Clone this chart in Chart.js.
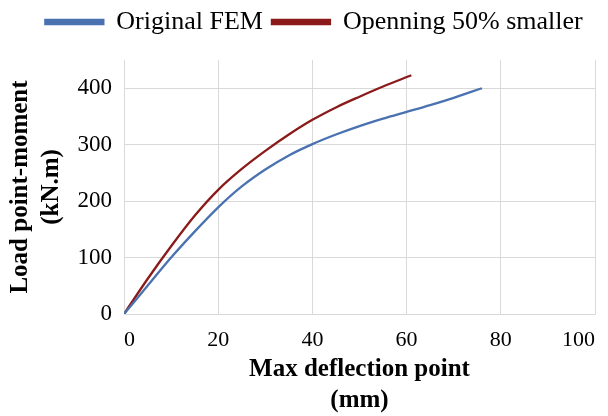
<!DOCTYPE html>
<html>
<head>
<meta charset="utf-8">
<script src="https://cdn.jsdelivr.net/npm/chart.js@4/dist/chart.umd.min.js"></script>
<style>
html,body{margin:0;padding:0;background:#fff;}
#wrap{width:608px;height:416px;}
</style>
</head>
<body>
<div id="wrap"><canvas id="c" width="608" height="416"></canvas></div>
<script>
const seriesNames = ["Original FEM", "Openning 50% smaller"];
const origX = [0, 5, 10, 15, 20, 25, 30, 35, 40, 45, 50, 55, 60, 65, 70, 76];
const origY = [0, 50, 100, 146, 189, 226, 256, 281, 301, 318, 333, 346, 358, 370, 383, 400];
const smallX = [0, 5, 10, 15, 20, 25, 30, 35, 40, 45, 50, 55, 61];
const smallY = [0, 62, 120, 174, 220, 257, 289, 318, 344, 366, 385, 403, 423];
const xTicks = [0, 20, 40, 60, 80, 100];
const yTicks = [0, 100, 200, 300, 400];

const toPts = (xs, ys) => xs.map((x, i) => ({x: x, y: ys[i]}));
const serif = "'Liberation Serif', 'Times New Roman', serif";

const legendLayout = {
  id: 'legendLayout',
  beforeLayout(chart) {
    const lg = chart.legend;
    if (lg && !lg._patched) {
      const orig = lg.fit;
      lg.fit = function () { orig.call(this); this.height = 60; };
      lg._patched = true;
    }
  },
  afterLayout(chart) {
    if (chart.legend) { chart.legend.left += 15; chart.legend.right += 15; }
  }
};

new Chart(document.getElementById('c'), {
  type: 'line',
  data: {
    datasets: [
      {label: seriesNames[0], data: toPts(origX, origY), borderColor: '#4a72b0', backgroundColor: '#4a72b0', borderWidth: 2.3, pointRadius: 0, cubicInterpolationMode: 'monotone'},
      {label: seriesNames[1], data: toPts(smallX, smallY), borderColor: '#8b1a1a', backgroundColor: '#8b1a1a', borderWidth: 2.3, pointRadius: 0, cubicInterpolationMode: 'monotone'}
    ]
  },
  plugins: [legendLayout],
  options: {
    responsive: false,
    animation: false,
    layout: {padding: {left: 0, right: 10, top: 0, bottom: 0}},
    plugins: {
      legend: {
        position: 'top',
        labels: {boxWidth: 58, boxHeight: 4, color: '#000', font: {family: serif, size: 26}, padding: 9}
      },
      tooltip: {enabled: false}
    },
    scales: {
      x: {
        type: 'linear', min: 0, max: 100,
        afterBuildTicks: a => { a.ticks = xTicks.map(v => ({value: v})); },
        afterFit: s => { s.height = 102; },
        ticks: {color: '#000', font: {family: serif, size: 22}, padding: 13, align: 'inner'},
        grid: {color: '#d9d9d9', drawTicks: false},
        border: {color: '#d9d9d9'},
        title: {display: true, text: ['Max deflection point', '(mm)'], color: '#000', font: {family: serif, size: 25, weight: 'bold', lineHeight: 1.25}, padding: {top: 0, bottom: 0}}
      },
      y: {
        type: 'linear', min: 0, max: 450,
        afterFit: s => { s.width = 124; },
        ticks: {stepSize: 50, color: '#000', font: {family: serif, size: 23}, padding: 12,
          callback: v => yTicks.includes(v) ? String(v) : ''},
        grid: {color: '#d9d9d9', drawTicks: false},
        border: {color: '#d9d9d9'},
        title: {display: true, text: ['Load point-moment', '(kN.m)'], color: '#000', font: {family: serif, size: 25, weight: 'bold', lineHeight: 1.25}, padding: {top: 5, bottom: 8}}
      }
    }
  }
});
</script>
</body>
</html>
